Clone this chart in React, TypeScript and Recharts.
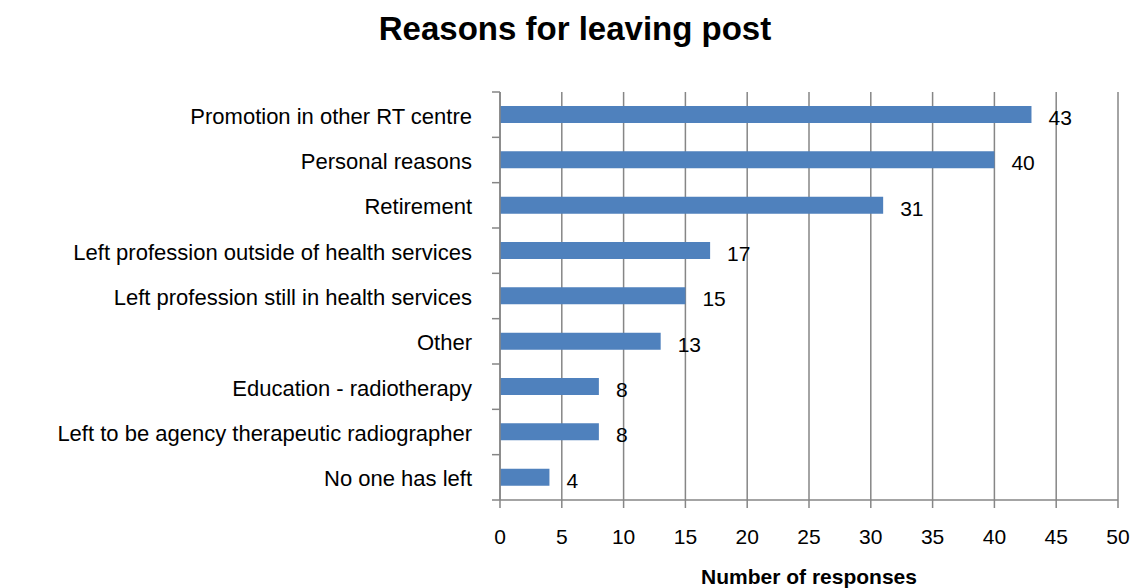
import React from "react";
import {
  BarChart,
  Bar,
  XAxis,
  YAxis,
  CartesianGrid,
  LabelList,
} from "recharts";

const reasons = [
  "Promotion in other RT centre",
  "Personal reasons",
  "Retirement",
  "Left profession outside of health services",
  "Left profession still in health services",
  "Other",
  "Education - radiotherapy",
  "Left to be agency therapeutic radiographer",
  "No one has left",
];

const responses = [43, 40, 31, 17, 15, 13, 8, 8, 4];

const xTicks = [0, 5, 10, 15, 20, 25, 30, 35, 40, 45, 50];

const data = reasons.map((name, i) => ({ name, value: responses[i] }));

const FONT = "'Liberation Sans', Arial, sans-serif";
const TOP = 92;
const BOTTOM = 500;
const BAND = (BOTTOM - TOP) / reasons.length;

function CategoryTick(props: any) {
  const { x, y, payload, index } = props;
  const last = index === reasons.length - 1;
  return (
    <g>
      <line x1={x} x2={x + 8} y1={y - BAND / 2} y2={y - BAND / 2} stroke="#868686" strokeWidth={1.5} />
      {last && (
        <line x1={x} x2={x + 8} y1={y + BAND / 2} y2={y + BAND / 2} stroke="#868686" strokeWidth={1.5} />
      )}
      <text
        x={x - 20}
        y={y}
        dy={9}
        textAnchor="end"
        fill="#000"
        fontSize={22}
        fontFamily={FONT}
      >
        {payload.value}
      </text>
    </g>
  );
}

function ReasonsChart() {
  return (
    <div style={{ position: "relative", width: 1131, height: 588, background: "#fff" }}>
      <style>{`body{margin:0}`}</style>
      <div
        style={{
          position: "absolute",
          top: 12,
          left: 0,
          width: 1150,
          textAlign: "center",
          fontFamily: FONT,
          fontWeight: 700,
          fontSize: 33,
          lineHeight: 1,
          color: "#000",
        }}
      >
        Reasons for leaving post
      </div>
      <BarChart
        width={1131}
        height={588}
        data={data}
        layout="vertical"
        margin={{ top: TOP, right: 13, bottom: 588 - BOTTOM - 30, left: 0 }}
      >
        <CartesianGrid horizontal={false} stroke="#868686" strokeWidth={1.5} />
        <XAxis
          type="number"
          domain={[0, 50]}
          ticks={xTicks}
          interval={0}
          height={30}
          axisLine={{ stroke: "#868686", strokeWidth: 1.5 }}
          tickLine={{ stroke: "#868686", strokeWidth: 1.5 }}
          tickSize={8}
          tickMargin={21}
          tick={{ fill: "#000", fontSize: 21, fontFamily: FONT }}
        />
        <YAxis
          type="category"
          dataKey="name"
          width={500}
          axisLine={{ stroke: "#868686", strokeWidth: 1.5 }}
          tickLine={false}
          tick={<CategoryTick />}
        />
        <Bar dataKey="value" fill="#4F81BD" barSize={17} isAnimationActive={false}>
          <LabelList
            dataKey="value"
            position="right"
            offset={17}
            dy={3}
            fill="#000"
            fontSize={21}
            fontFamily={FONT}
          />
        </Bar>
      </BarChart>
      <div
        style={{
          position: "absolute",
          top: 566,
          left: 500,
          width: 618,
          textAlign: "center",
          fontFamily: FONT,
          fontWeight: 700,
          fontSize: 21,
          lineHeight: 1,
          color: "#000",
        }}
      >
        Number of responses
      </div>
    </div>
  );
}

export default function App() {
  return <ReasonsChart />;
}
